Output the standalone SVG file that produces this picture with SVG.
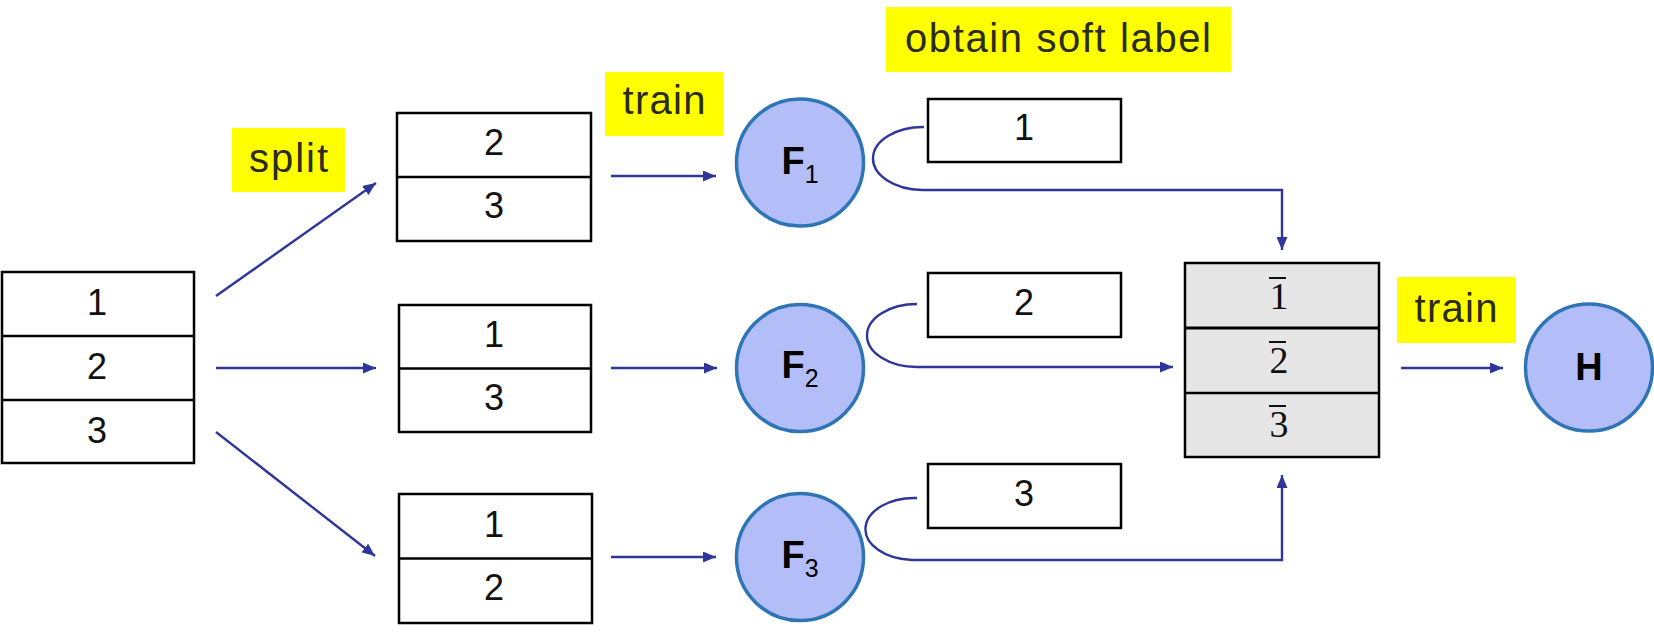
<svg xmlns="http://www.w3.org/2000/svg" width="1654" height="636" viewBox="0 0 1654 636">
<defs>
<style>
.box{fill:#fff;stroke:#000;stroke-width:2.5}
.gbox{fill:#E7E6E6;stroke:#000;stroke-width:2.5}
.div{stroke:#000;stroke-width:2.5}
.num{font-family:"Liberation Sans",Arial,sans-serif;font-size:36px;fill:#111;text-anchor:middle}
.bar{font-family:"Liberation Serif","Times New Roman",serif;font-size:38px;fill:#111;text-anchor:middle}
.ov{stroke:#111;stroke-width:2}
.hl{fill:#FFFF00}
.lbl{font-family:"Liberation Sans",Arial,sans-serif;font-size:40px;fill:#2b2b1f;text-anchor:middle}
.node{fill:#B3BEF8;stroke:#2E75B6;stroke-width:3.5}
.ntxt{font-family:"Liberation Sans",Arial,sans-serif;font-size:38px;font-weight:bold;fill:#000;text-anchor:middle}
.sub{font-size:25px;font-weight:normal}
.con{fill:none;stroke:#2F3699;stroke-width:2.4}
</style>
<marker id="ah" viewBox="0 0 13 11" refX="13" refY="5.5" markerWidth="13" markerHeight="11" markerUnits="userSpaceOnUse" orient="auto">
<path d="M0,0 L13,5.5 L0,11 z" fill="#2F3699"/>
</marker>
</defs>
<rect width="1654" height="636" fill="#fff"/>

<g id="labels">
<rect class="hl" x="232" y="128" width="113" height="64"/>
<text class="lbl" x="288.5" y="172" textLength="79">split</text>
<rect class="hl" x="605" y="72" width="118" height="64"/>
<text class="lbl" x="664" y="114" textLength="83">train</text>
<rect class="hl" x="886" y="7" width="345" height="65"/>
<text class="lbl" x="1058" y="52" textLength="306">obtain soft label</text>
<rect class="hl" x="1397" y="277" width="119" height="66"/>
<text class="lbl" x="1456" y="322" textLength="83">train</text>
</g>

<g id="data-full">
<rect class="box" x="2" y="272" width="192" height="191"/>
<line class="div" x1="2" y1="336" x2="194" y2="336"/>
<line class="div" x1="2" y1="400" x2="194" y2="400"/>
<text class="num" x="97" y="315">1</text>
<text class="num" x="97" y="379">2</text>
<text class="num" x="97" y="443">3</text>
</g>

<g id="split-23">
<rect class="box" x="397" y="113" width="194" height="128"/>
<line class="div" x1="397" y1="177" x2="591" y2="177"/>
<text class="num" x="494" y="155">2</text>
<text class="num" x="494" y="218">3</text>
</g>
<g id="split-13">
<rect class="box" x="399" y="305" width="192" height="127"/>
<line class="div" x1="399" y1="368.5" x2="591" y2="368.5"/>
<text class="num" x="494" y="347">1</text>
<text class="num" x="494" y="410">3</text>
</g>
<g id="split-12">
<rect class="box" x="399" y="494" width="193" height="129"/>
<line class="div" x1="399" y1="558.5" x2="592" y2="558.5"/>
<text class="num" x="494" y="537">1</text>
<text class="num" x="494" y="600">2</text>
</g>

<g id="F1">
<circle class="node" cx="800" cy="162.5" r="63.5"/>
<text class="ntxt" x="800" y="174">F<tspan class="sub" dy="9">1</tspan></text>
</g>
<g id="F2">
<circle class="node" cx="800" cy="368" r="63.5"/>
<text class="ntxt" x="800" y="378">F<tspan class="sub" dy="9">2</tspan></text>
</g>
<g id="F3">
<circle class="node" cx="800" cy="557" r="63.5"/>
<text class="ntxt" x="800" y="568">F<tspan class="sub" dy="9">3</tspan></text>
</g>

<g id="soft-1">
<rect class="box" x="928" y="99" width="193" height="63"/>
<text class="num" x="1024" y="140">1</text>
</g>
<g id="soft-2">
<rect class="box" x="928" y="273" width="193" height="64"/>
<text class="num" x="1024" y="315">2</text>
</g>
<g id="soft-3">
<rect class="box" x="928" y="464" width="193" height="64"/>
<text class="num" x="1024" y="506">3</text>
</g>

<g id="soft-all">
<rect class="gbox" x="1185" y="263" width="194" height="194"/>
<line x1="1185" y1="328" x2="1379" y2="328" stroke="#000" stroke-width="3.2"/>
<line class="div" x1="1185" y1="393" x2="1379" y2="393"/>
<text class="bar" x="1279" y="309">1</text>
<line class="ov" x1="1269" y1="278" x2="1286" y2="278"/>
<text class="bar" x="1279" y="373">2</text>
<line class="ov" x1="1269" y1="342" x2="1286" y2="342"/>
<text class="bar" x="1279" y="437">3</text>
<line class="ov" x1="1269" y1="406" x2="1286" y2="406"/>
</g>

<g id="H">
<circle class="node" cx="1589" cy="367.5" r="63.5"/>
<text class="ntxt" x="1589" y="380">H</text>
</g>

<g id="connectors">
<line class="con" x1="216" y1="296" x2="376" y2="183" marker-end="url(#ah)"/>
<line class="con" x1="216" y1="368" x2="376" y2="368" marker-end="url(#ah)"/>
<line class="con" x1="216" y1="432" x2="375" y2="556" marker-end="url(#ah)"/>
<line class="con" x1="611" y1="176" x2="716" y2="176" marker-end="url(#ah)"/>
<line class="con" x1="611" y1="368" x2="717" y2="368" marker-end="url(#ah)"/>
<line class="con" x1="611" y1="557" x2="716" y2="557" marker-end="url(#ah)"/>
<path class="con" d="M924,127 A50,31.5 0 0 0 922,190 L1282,190 L1282,250" marker-end="url(#ah)"/>
<path class="con" d="M917,304 A50,31.5 0 0 0 917,367 L1173,367" marker-end="url(#ah)"/>
<path class="con" d="M917,498 A49,31 0 0 0 912,560 L1282,560 L1282,475" marker-end="url(#ah)"/>
<line class="con" x1="1401" y1="368" x2="1503" y2="368" marker-end="url(#ah)"/>
</g>
</svg>
